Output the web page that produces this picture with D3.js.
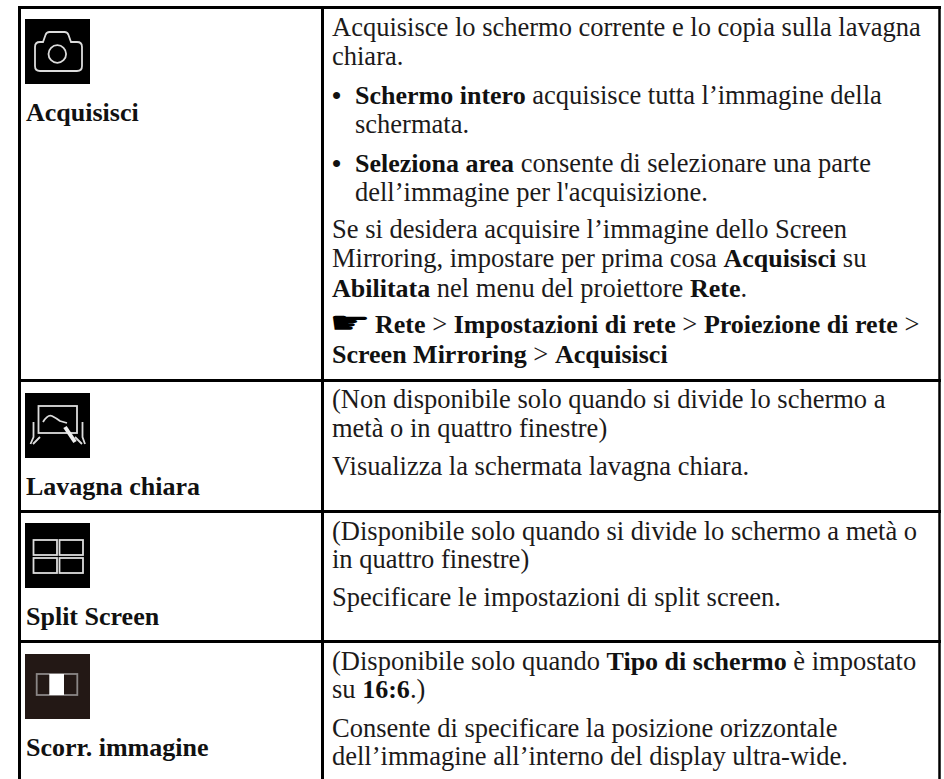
<!DOCTYPE html>
<html>
<head>
<meta charset="utf-8">
<script src="https://cdn.jsdelivr.net/npm/d3@7"></script>
<style>
html, body { margin: 0; padding: 0; background: #fff; }
svg { display: block; }
text { font-family: "Liberation Serif", serif; font-size: 26.5px; fill: #1c1a1a; }
.b, .bi { font-size: 26px; font-weight: bold; fill: #111; }
.hand { font-family: "DejaVu Sans"; font-size: 36px; fill: #000; }
</style>
</head>
<body>
<svg></svg>
<script>
var svgWidth = 944, svgHeight = 779;

// row names, left column
var labels = ["Acquisisci", "Lavagna chiara", "Split Screen", "Scorr. immagine"];
var iconNames = ["camera", "board", "split", "slider"];

// right column text, one entry per line, each line a list of runs
// "b" = bold, "bi" = bold starting at the list indent
var row0Lines = [
  [["Acquisisce lo schermo corrente e lo copia sulla lavagna"]],
  [["chiara."]],
  [["•", "b"], ["Schermo intero", "bi"], [" acquisisce tutta l’immagine della"]],
  [["schermata."]],
  [["•", "b"], ["Seleziona area", "bi"], [" consente di selezionare una parte"]],
  [["dell’immagine per l'acquisizione."]],
  [["Se si desidera acquisire l’immagine dello Screen"]],
  [["Mirroring, impostare per prima cosa "], ["Acquisisci", "b"], [" su"]],
  [["Abilitata", "b"], [" nel menu del proiettore "], ["Rete", "b"], ["."]],
  [["Rete", "bh"], [" > "], ["Impostazioni di rete", "b"], [" > "], ["Proiezione di rete", "b"], [" >"]],
  [["Screen Mirroring", "b"], [" > "], ["Acquisisci", "b"]]
];
var row1Lines = [
  [["(Non disponibile solo quando si divide lo schermo a"]],
  [["metà o in quattro finestre)"]],
  [["Visualizza la schermata lavagna chiara."]]
];
var row2Lines = [
  [["(Disponibile solo quando si divide lo schermo a metà o"]],
  [["in quattro finestre)"]],
  [["Specificare le impostazioni di split screen."]]
];
var row3Lines = [
  [["(Disponibile solo quando "], ["Tipo di schermo", "b"], [" è impostato"]],
  [["su "], ["16:6", "b"], [".)"]],
  [["Consente di specificare la posizione orizzontale"]],
  [["dell’immagine all’interno del display ultra-wide."]]
];

// layout
var rowEdges = [7.5, 380.5, 511.5, 641.5];
var iconTops = [19, 393, 523, 654];
var labelBaselines = [121, 495, 625, 756];
var row0Baselines = [36, 65, 104, 133, 172, 201, 238, 267, 297, 333, 363];
var row0Indent = [0, 0, 0, 23, 0, 23, 0, 0, 0, 0, 0];
var row1Baselines = [408, 437, 475];
var row2Baselines = [540, 568, 606];
var row3Baselines = [670, 698, 737, 765];

var svg = d3.select("svg").attr("width", svgWidth).attr("height", svgHeight);
svg.append("filter").attr("id", "soft").append("feGaussianBlur").attr("stdDeviation", 0.45);

// table frame
var frameX = [19.5, 322.5, 939.5];
rowEdges.forEach(function (y) {
  svg.append("line").attr("x1", 18).attr("x2", 941).attr("y1", y).attr("y2", y)
    .attr("stroke", "#000").attr("stroke-width", 3);
});
frameX.forEach(function (x, i) {
  svg.append("line").attr("x1", x).attr("x2", x).attr("y1", 6).attr("y2", svgHeight)
    .attr("stroke", "#000").attr("stroke-width", i == 2 ? 2.5 : 3);
});

// left column labels and icons
labels.forEach(function (d, i) {
  var g = svg.append("g").attr("transform", "translate(25," + iconTops[i] + ")");
  g.append("rect").attr("width", 65).attr("height", 65)
    .attr("fill", i == 3 ? "#231815" : "#000");
  drawIcon(g, iconNames[i]);
  svg.append("text").attr("class", "b").attr("x", 26).attr("y", labelBaselines[i]).text(d);
});

function drawIcon(g, name) {
  var s = g.append("g").attr("fill", "none").attr("stroke", "#dcdcdc")
    .attr("stroke-width", 1.8).attr("filter", "url(#soft)");
  if (name == "camera") {
    s.append("path").attr("d", "M15 23 h3 l2.5 -7 q1 -3 4 -3 h15 q3 0 4 3 l2.5 7 h6 q5 0 5 5 v19 q0 5 -5 5 H15 q-5 0 -5 -5 V28 q0 -5 5 -5 Z");
    s.append("circle").attr("cx", 32.3).attr("cy", 35).attr("r", 8.8);
  }
  if (name == "board") {
    s.append("rect").attr("x", 13.5).attr("y", 13).attr("width", 38.5).attr("height", 27);
    s.append("path").attr("d", "M18 29 q5 -8 9 -6 t8 5 l7 2");
    s.append("path").attr("d", "M8.5 29 v15 l-3 7 M15 44 l-7 7 M57.5 29 v15 l2.5 7 M50 44 l7 7");
    s.append("path").attr("d", "M40 34 l10 15").attr("stroke", "#eee").attr("stroke-width", 4);
  }
  if (name == "split") {
    var cells = [[8.5, 17], [34.5, 17], [8.5, 35], [34.5, 35]];
    s.selectAll("rect").data(cells).enter().append("rect")
      .attr("x", function (d) { return d[0]; })
      .attr("y", function (d) { return d[1]; })
      .attr("width", 23.5).attr("height", 15);
  }
  if (name == "slider") {
    s.attr("stroke", "#8a8686");
    s.append("rect").attr("x", 11.7).attr("y", 20).attr("width", 40.6).attr("height", 21);
    g.append("rect").attr("x", 24.3).attr("y", 20).attr("width", 14.7).attr("height", 21)
      .attr("fill", "#fff").attr("filter", "url(#soft)");
  }
}

// right column paragraphs
function addLines(lines, baselines, indent) {
  lines.forEach(function (runs, i) {
    var t = svg.append("text").attr("x", 332 + (indent ? indent[i] : 0)).attr("y", baselines[i])
      .style("white-space", "pre");
    t.selectAll("tspan").data(runs).enter().append("tspan")
      .attr("class", function (d) { return d[1] == "b" || d[1] == "bh" ? "b" : d[1] == "bi" ? "bi" : null; })
      .attr("x", function (d) { return d[1] == "bi" ? 355 : d[1] == "bh" ? 375 : null; })
      .text(function (d) { return d[0]; });
  });
}
addLines(row0Lines, row0Baselines, row0Indent);
addLines(row1Lines, row1Baselines);
addLines(row2Lines, row2Baselines);
addLines(row3Lines, row3Baselines);

// pointing hand in front of the menu path
svg.append("text").attr("class", "hand")
  .attr("transform", "translate(329," + row0Baselines[9] + ") scale(1.3,0.85)")
  .text("☛");
</script>
</body>
</html>
